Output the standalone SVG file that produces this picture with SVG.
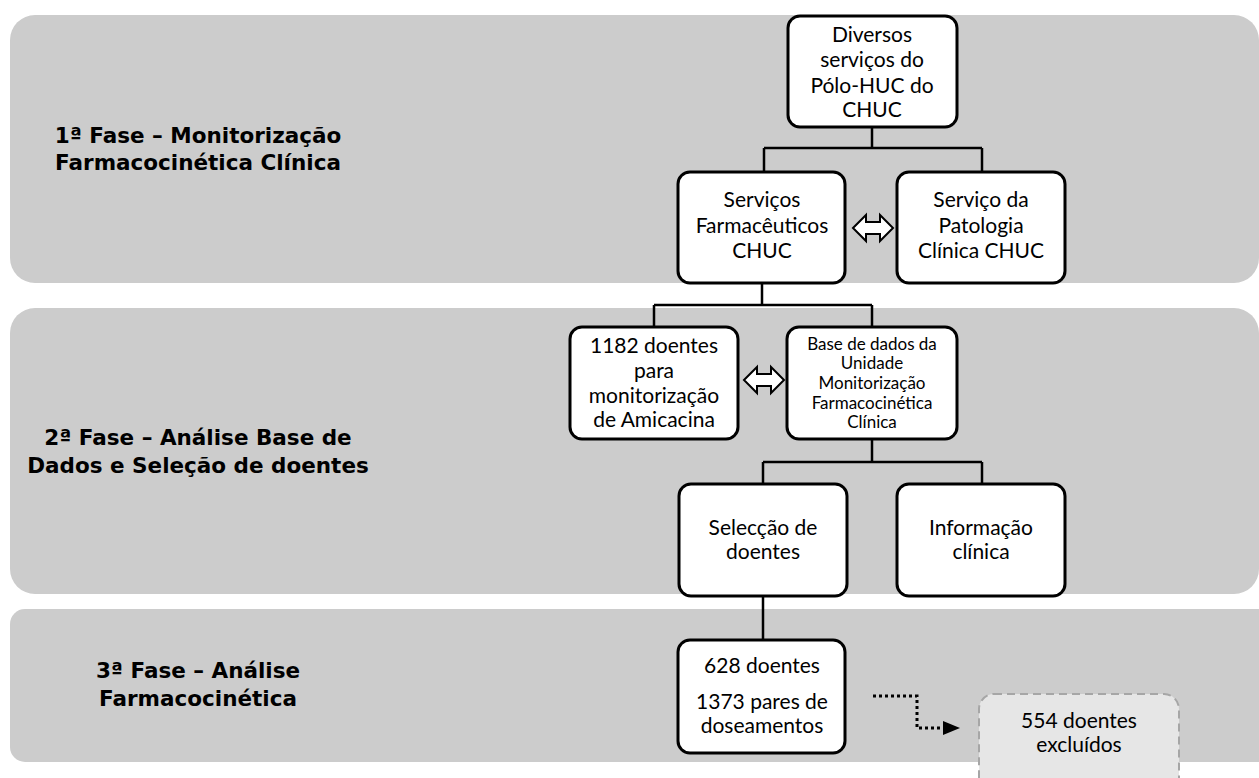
<svg xmlns="http://www.w3.org/2000/svg" width="1259" height="778" viewBox="0 0 1259 778">
<style>
.band{fill:#cccccc}
.box{fill:#ffffff;stroke:#000;stroke-width:3}
.t{font-family:Lato,"Liberation Sans",sans-serif;font-size:21px;fill:#000;text-anchor:middle}
.s{font-size:17px}
.b{font-family:"DejaVu Sans","Liberation Sans",sans-serif;font-weight:bold;font-size:21.5px;fill:#000;text-anchor:middle}
.ln{fill:none;stroke:#000;stroke-width:2.5}
.dbl{fill:#fff;stroke:#000;stroke-width:2;stroke-linejoin:miter}
</style>
<rect width="1259" height="778" fill="#fff"/>
<g id="bands">
<rect class="band" x="10" y="15" width="1249" height="268" rx="25"/>
<rect class="band" x="10" y="308" width="1249" height="286" rx="25"/>
<path class="band" d="M25,609 H1259 V762 H25 A15,15 0 0 1 10,747 V624 A15,15 0 0 1 25,609 Z"/>
</g>
<g id="phase1-label"><text class="b" x="198" y="143">1ª Fase – Monitorização</text><text class="b" x="198" y="170">Farmacocinética Clínica</text></g>
<g id="phase2-label"><text class="b" x="198" y="445">2ª Fase – Análise Base de</text><text class="b" x="198" y="473">Dados e Seleção de doentes</text></g>
<g id="phase3-label"><text class="b" x="198" y="678">3ª Fase – Análise</text><text class="b" x="198" y="706">Farmacocinética</text></g>
<g id="connectors">
<path class="ln" d="M872,127 V148 M764,148 H982 M764,148 V172 M982,148 V172"/>
<path class="ln" d="M762,283 V305 M654,305 H872 M654,305 V327 M872,305 V327"/>
<path class="ln" d="M872,439 V462 M763,462 H982 M763,462 V484 M982,462 V484"/>
<path class="ln" d="M763,596 V640"/>
<path d="M873,696 H917 V728 H944" fill="none" stroke="#000" stroke-width="3" stroke-dasharray="3 3"/>
<polygon points="943,721 960,728 943,735" fill="#000"/>
<polygon class="dbl" points="853,228 866,215 866,222 880,222 880,215 893,228 880,241 880,234 866,234 866,241"/>
<polygon class="dbl" points="744,380 757,367 757,374 771,374 771,367 784,380 771,393 771,386 757,386 757,393"/>
</g>
<g id="n-diversos"><rect class="box" x="788" y="16" width="169" height="111" rx="12"/>
<text class="t" x="872" y="42">Diversos</text><text class="t" x="872" y="67">serviços do</text><text class="t" x="872" y="93">Pólo-HUC do</text><text class="t" x="872" y="117">CHUC</text></g>
<g id="n-farm"><rect class="box" x="678" y="172" width="167" height="111" rx="12"/>
<text class="t" x="762" y="207">Serviços</text><text class="t" x="762" y="233">Farmacêuticos</text><text class="t" x="762" y="258">CHUC</text></g>
<g id="n-pat"><rect class="box" x="897" y="172" width="168" height="111" rx="12"/>
<text class="t" x="981" y="207">Serviço da</text><text class="t" x="981" y="233">Patologia</text><text class="t" x="981" y="258">Clínica CHUC</text></g>
<g id="n-1182"><rect class="box" x="570" y="327" width="168" height="112" rx="12"/>
<text class="t" x="654" y="353">1182 doentes</text><text class="t" x="654" y="378">para</text><text class="t" x="654" y="403">monitorização</text><text class="t" x="654" y="427">de Amicacina</text></g>
<g id="n-base"><rect class="box" x="787" y="327" width="170" height="112" rx="12"/>
<text class="t s" x="872" y="350">Base de dados da</text><text class="t s" x="872" y="369">Unidade</text><text class="t s" x="872" y="389">Monitorização</text><text class="t s" x="872" y="409">Farmacocinética</text><text class="t s" x="872" y="428">Clínica</text></g>
<g id="n-selec"><rect class="box" x="679" y="484" width="168" height="112" rx="12"/>
<text class="t" x="763" y="535">Selecção de</text><text class="t" x="763" y="559">doentes</text></g>
<g id="n-info"><rect class="box" x="897" y="484" width="168" height="112" rx="12"/>
<text class="t" x="981" y="535">Informação</text><text class="t" x="981" y="559">clínica</text></g>
<g id="n-628"><rect class="box" x="678" y="640" width="167" height="113" rx="12"/>
<text class="t" x="762" y="673">628 doentes</text><text class="t" x="762" y="709">1373 pares de</text><text class="t" x="762" y="733">doseamentos</text></g>
<g id="n-excl"><rect x="979" y="694" width="200" height="100" rx="15" fill="#e6e6e6" stroke="#a6a6a6" stroke-width="2" stroke-dasharray="8 5"/>
<text class="t" x="1079" y="728">554 doentes</text><text class="t" x="1079" y="752">excluídos</text></g>
</svg>
